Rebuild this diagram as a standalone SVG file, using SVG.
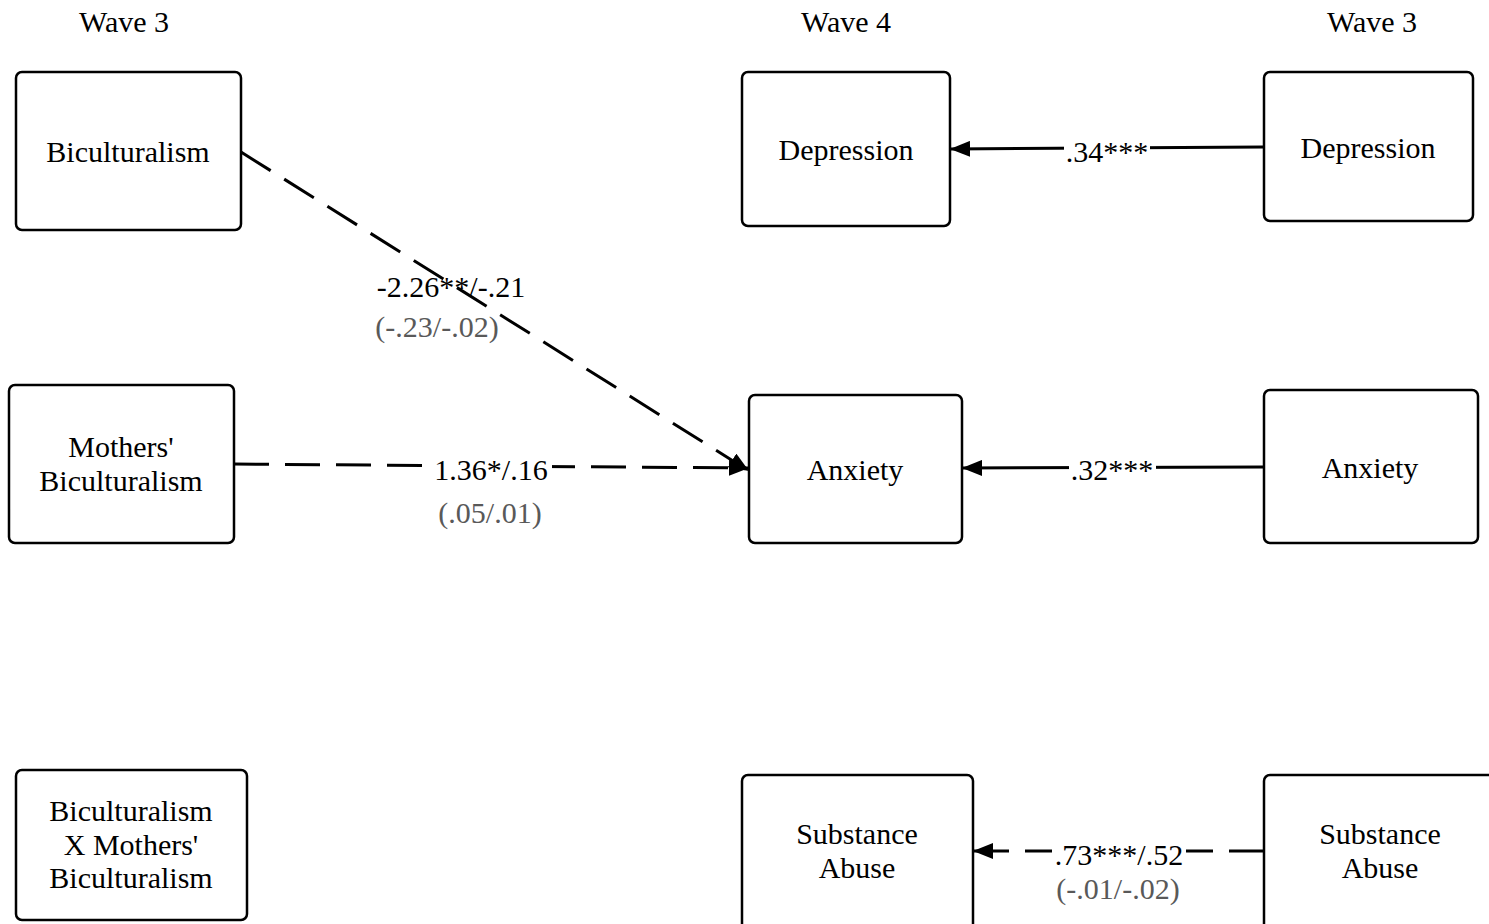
<svg xmlns="http://www.w3.org/2000/svg" width="1489" height="924" viewBox="0 0 1489 924" font-family="'Liberation Serif', 'DejaVu Serif', serif">
<defs>
<style>
text{font-family:'Liberation Serif','DejaVu Serif',serif;font-size:30px;fill:#000;text-anchor:middle}
.gray{fill:#595959}
.box{fill:#fff;stroke:#000;stroke-width:2.5}
.edge{fill:none;stroke:#000;stroke-width:3}
.dash{stroke-dasharray:35 16}
.bg{fill:#fff}
</style>
<marker id="arr" viewBox="0 0 20 16" refX="20" refY="8" markerWidth="20" markerHeight="16" markerUnits="userSpaceOnUse" orient="auto">
<path d="M0,0 L20,8 L0,16 z" fill="#000"/>
</marker>
</defs>
<rect width="1489" height="924" fill="#fff"/>
<g id="headers">
<text x="124" y="32">Wave 3</text>
<text x="846" y="32">Wave 4</text>
<text x="1372" y="32">Wave 3</text>
</g>
<g id="connectors">
<path class="edge dash" d="M241,152 L749,471" marker-end="url(#arr)"/>
<path class="edge dash" d="M234,464 L749,468" marker-end="url(#arr)"/>
<path class="edge" d="M1264,147 L950,149" marker-end="url(#arr)"/>
<path class="edge" d="M1264,467 L962,468" marker-end="url(#arr)"/>
<path class="edge dash" d="M1264,851 L973,851" marker-end="url(#arr)"/>
<rect class="bg" x="430" y="455" width="122" height="30"/>
<rect class="bg" x="1064" y="137" width="86" height="30"/>
<rect class="bg" x="1069" y="455" width="87" height="30"/>
<rect class="bg" x="1052" y="840" width="134" height="30"/>
<text x="451" y="297">-2.26**/-.21</text>
<text class="gray" x="437" y="337">(-.23/-.02)</text>
<text x="491" y="480">1.36*/.16</text>
<text class="gray" x="490" y="523">(.05/.01)</text>
<text x="1107" y="162">.34***</text>
<text x="1112" y="480">.32***</text>
<text x="1119" y="865">.73***/.52</text>
<text class="gray" x="1118" y="899">(-.01/-.02)</text>
</g>
<g id="bic">
<rect class="box" x="16" y="72" width="225" height="158" rx="6"/>
<text x="128" y="162">Biculturalism</text>
</g>
<g id="mbic">
<rect class="box" x="9" y="385" width="225" height="158" rx="6"/>
<text x="121" y="457">Mothers'</text>
<text x="121" y="491">Biculturalism</text>
</g>
<g id="interaction">
<rect class="box" x="16" y="770" width="231" height="150" rx="6"/>
<text x="131" y="821">Biculturalism</text>
<text x="131" y="855">X Mothers'</text>
<text x="131" y="888">Biculturalism</text>
</g>
<g id="dep4">
<rect class="box" x="742" y="72" width="208" height="154" rx="6"/>
<text x="846" y="160">Depression</text>
</g>
<g id="anx4">
<rect class="box" x="749" y="395" width="213" height="148" rx="6"/>
<text x="855" y="480">Anxiety</text>
</g>
<g id="sub4">
<rect class="box" x="742" y="775" width="231" height="160" rx="6"/>
<text x="857" y="844">Substance</text>
<text x="857" y="878">Abuse</text>
</g>
<g id="dep3">
<rect class="box" x="1264" y="72" width="209" height="149" rx="6"/>
<text x="1368" y="158">Depression</text>
</g>
<g id="anx3">
<rect class="box" x="1264" y="390" width="214" height="153" rx="6"/>
<text x="1370" y="478">Anxiety</text>
</g>
<g id="sub3">
<rect class="box" x="1264" y="775" width="240" height="160" rx="6"/>
<text x="1380" y="844">Substance</text>
<text x="1380" y="878">Abuse</text>
</g>
</svg>
